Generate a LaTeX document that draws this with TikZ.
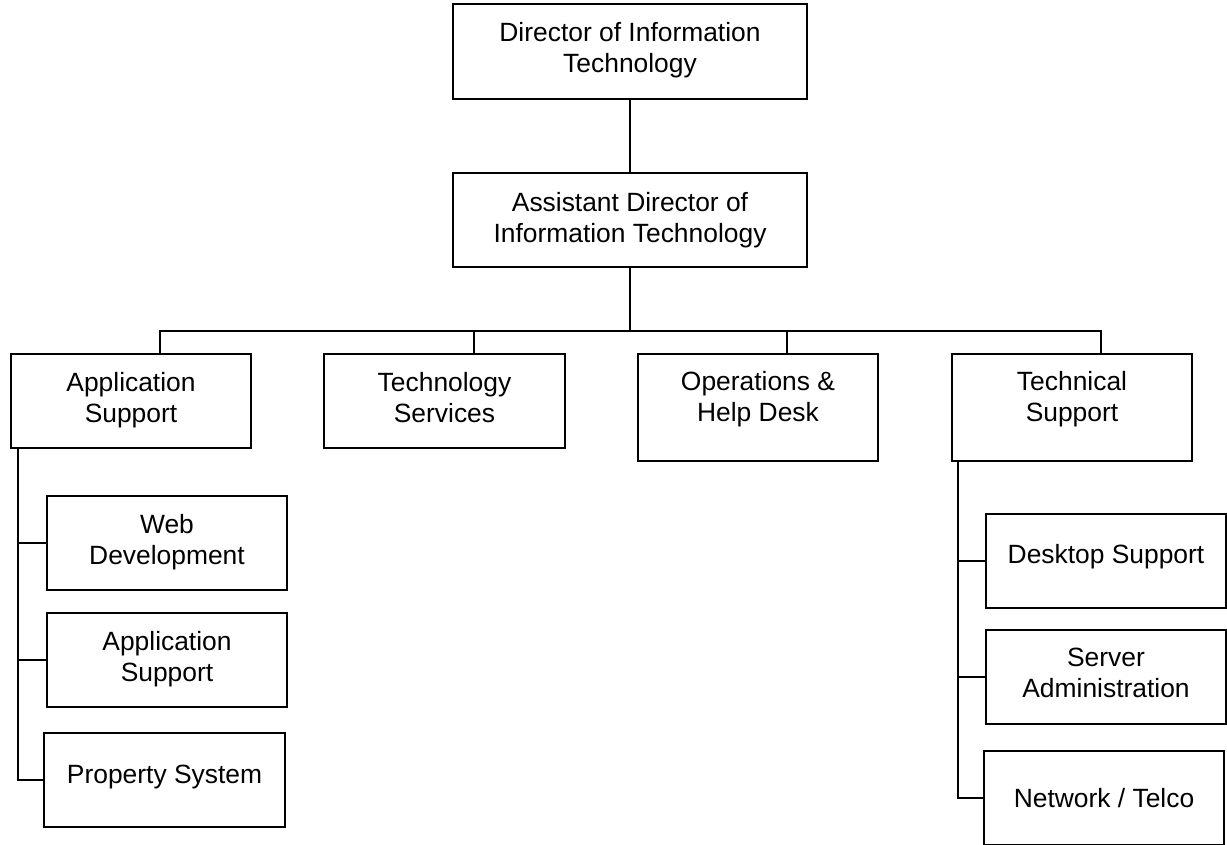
\documentclass[tikz,border=0pt]{standalone}
\usepackage{fontspec}
\setmainfont{Liberation Sans}
\usetikzlibrary{positioning}

% empty room under the last line of a box
\newcommand{\lowpad}[1]{\rule[-#1]{0pt}{#1}}

\tikzset{
    unit/.style = {draw, line width=1.5pt, align=center, inner sep=0pt,
                   minimum width=180pt, minimum height=70.5pt,
                   font=\fontsize{19.8pt}{23.2pt}\selectfont},
    tall/.style = {minimum height=80.25pt},
    wire/.style = {line width=1.5pt},
}

\begin{document}
\begin{tikzpicture}[x=0.75pt, y=-0.75pt]
    \useasboundingbox (0,0) rectangle (1227,844);
    % head of the department
    \node[unit, minimum width=265.5pt, minimum height=71.25pt] (dir) at (630,51.5) {Director of Information\\Technology\lowpad{6pt}};
    \node[unit, minimum width=265pt] (adir) at (630,220) {Assistant Director of\\Information Technology};
    \coordinate (bus) at (630,331);
    \draw[wire] (dir) -- (adir);
    \draw[wire] (adir) -- (bus);

    % the four groups
    \node[unit] (app) at (131,401) {Application\\Support\lowpad{6pt}};
    \node[unit, minimum width=180.75pt] (tsv) at (444.5,401) {Technology\\Services\lowpad{6pt}};
    \node[unit, tall] (ops) at (758,407.5) {Operations \&\\Help Desk\lowpad{16pt}};
    \node[unit, tall] (tsp) at (1072,407.5) {Technical\\Support\lowpad{16pt}};
    \foreach \n in {app,tsv,ops,tsp}
        \draw[wire] ([xshift=21.75pt]\n.north) |- (bus);

    % under application support
    \node[unit] (web) at (167,543) {Web\\Development\lowpad{6pt}};
    \node[unit] (aps) at (167,660) {Application\\Support\lowpad{6pt}};
    \node[unit, minimum width=180.75pt] (prop) at (164.5,780) {Property System\lowpad{9pt}};
    \foreach \n in {web,aps,prop}
        \draw[wire] ([xshift=6pt]app.south west) |- (\n.west);

    % under technical support
    \node[unit] (dsk) at (1106,561) {Desktop Support\lowpad{10pt}};
    \node[unit] (srv) at (1106,677) {Server\\Administration\lowpad{6pt}};
    \node[unit] (net) at (1104,798) {Network / Telco};
    \foreach \n in {dsk,srv,net}
        \draw[wire] ([xshift=5.25pt]tsp.south west) |- (\n.west);
\end{tikzpicture}
\end{document}
